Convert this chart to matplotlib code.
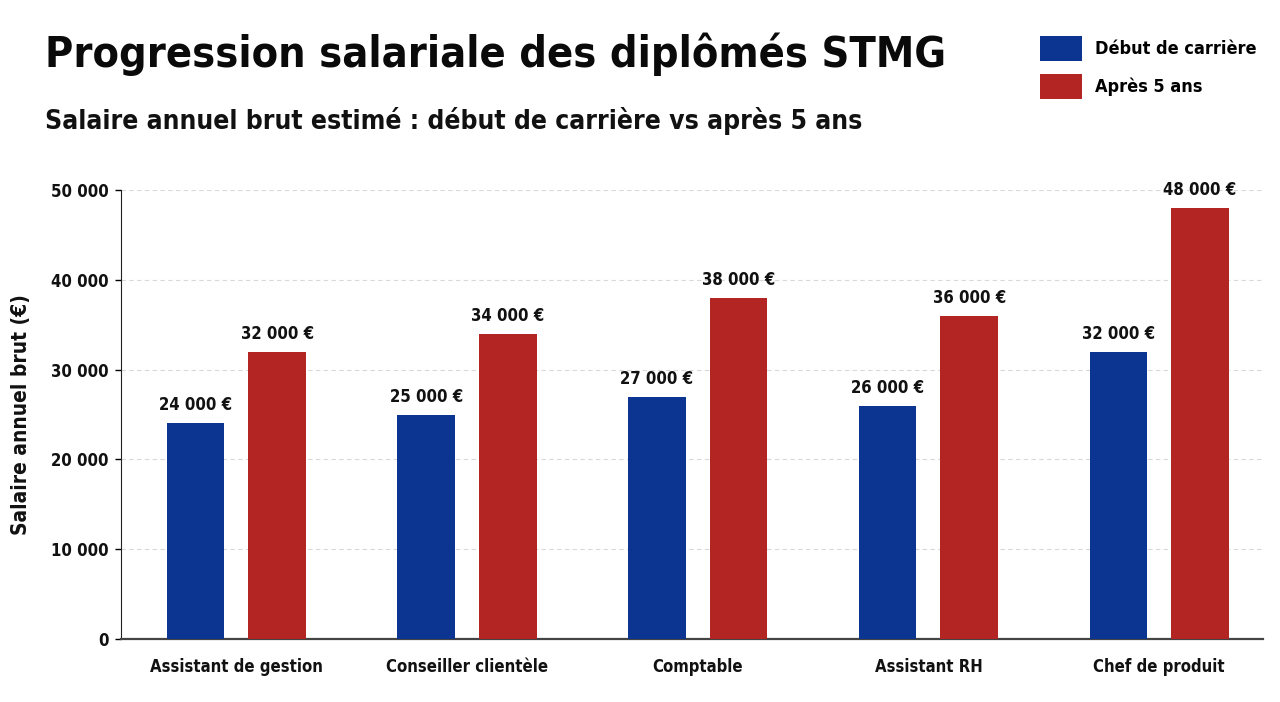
import matplotlib
matplotlib.use("Agg")
import matplotlib.pyplot as plt
from matplotlib import font_manager
from matplotlib.patches import Patch
import numpy as np

metiers = ["Assistant de gestion", "Conseiller clientèle", "Comptable", "Assistant RH", "Chef de produit"]
debut = [24000, 25000, 27000, 26000, 32000]
apres5 = [32000, 34000, 38000, 36000, 48000]
series_labels = ["Début de carrière", "Après 5 ans"]
yticks = [0, 10000, 20000, 30000, 40000, 50000]

BLUE = "#0b3590"
RED = "#b32523"

# pick a condensed bold face if one is installed
names = {f.name for f in font_manager.fontManager.ttflist}
stretch = "normal"
if "Liberation Sans Narrow" in names:
    FONT = "Liberation Sans Narrow"
else:
    FONT = "DejaVu Sans"
    if any(f.name == "DejaVu Sans" and f.stretch == "condensed" for f in font_manager.fontManager.ttflist):
        stretch = "condensed"
plt.rcParams["font.family"] = [FONT, "DejaVu Sans"]
plt.rcParams["font.stretch"] = stretch
plt.rcParams["font.weight"] = "bold"


def fr(v):
    return f"{v:,.0f}".replace(",", " ")


fig = plt.figure(figsize=(12.8, 7.02), dpi=100)
ax = fig.add_axes([121 / 1280, 1 - 639 / 702, (1263 - 121) / 1280, (639 - 190) / 702])

x = np.arange(len(metiers))
w = 0.25
off = 0.177
b1 = ax.bar(x - off, debut, w, color=BLUE, zorder=3)
b2 = ax.bar(x + off, apres5, w, color=RED, zorder=3)

for bars, vals in ((b1, debut), (b2, apres5)):
    for b, v in zip(bars, vals):
        ax.text(b.get_x() + b.get_width() / 2, v + 1000, fr(v) + " €",
                ha="center", va="bottom", fontsize=12, fontweight="bold", color="#111111")

ax.set_xlim(-0.5, 4.45)
ax.set_ylim(0, 50000)
ax.set_yticks(yticks)
ax.set_yticklabels([fr(t) for t in yticks])
ax.set_xticks(x)
ax.set_xticklabels(metiers)
ax.tick_params(axis="x", length=0, pad=14, labelsize=12)
ax.tick_params(axis="y", length=4, width=1, pad=5, labelsize=12)
for lab in ax.get_xticklabels() + ax.get_yticklabels():
    lab.set_fontweight("bold")
    lab.set_color("#111111")

ax.yaxis.grid(True, color="#d9d9d9", linestyle=(0, (4, 3)), linewidth=0.8, zorder=0)
ax.spines["top"].set_visible(False)
ax.spines["right"].set_visible(False)
ax.spines["left"].set_color("#222222")
ax.spines["bottom"].set_color("#444444")
ax.spines["bottom"].set_linewidth(1.6)

ax.set_ylabel("Salaire annuel brut (€)", fontsize=15, fontweight="bold", color="#111111", labelpad=14)

fig.text(45 / 1280, 1 - 67 / 702, "Progression salariale des diplômés STMG",
         fontsize=31, fontweight="bold", color="#0a0a0a", va="baseline")
fig.text(45 / 1280, 1 - 129 / 702, "Salaire annuel brut estimé : début de carrière vs après 5 ans",
         fontsize=19, fontweight="bold", color="#111111", va="baseline")

handles = [Patch(facecolor=BLUE), Patch(facecolor=RED)]
fig.legend(handles, series_labels, loc="upper left", bbox_to_anchor=(1024 / 1280, 1 - 20 / 702),
           frameon=False, handlelength=2.3, handleheight=1.7,
           handletextpad=0.75, labelspacing=0.75, prop={"weight": "bold", "size": 13})

fig.savefig("out.png", dpi=100, facecolor="white")
